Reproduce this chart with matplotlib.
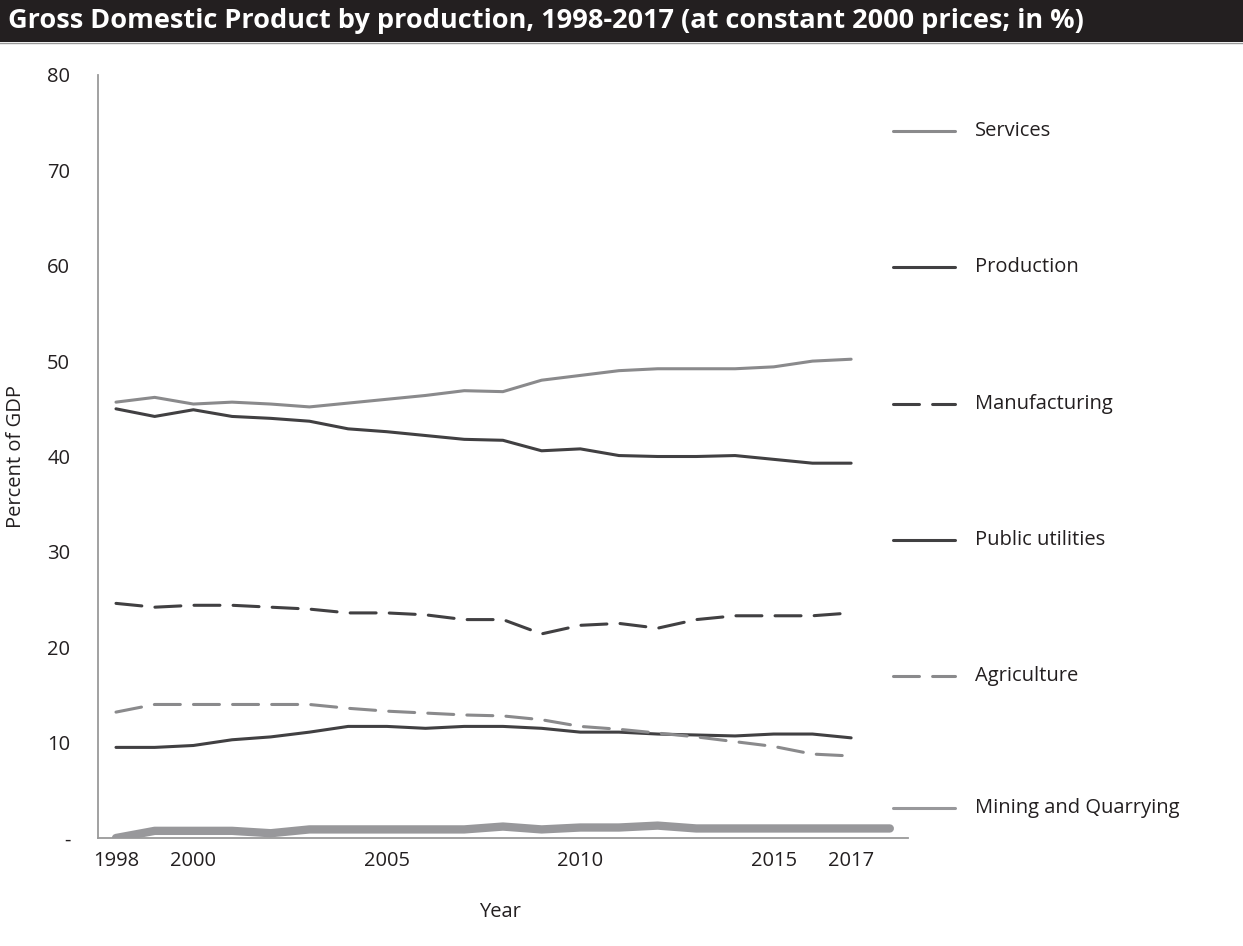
import matplotlib
matplotlib.use("Agg")
import matplotlib.pyplot as plt
from matplotlib.lines import Line2D
from matplotlib.patches import Rectangle

plt.rcParams['font.family'] = ['Open Sans', 'DejaVu Sans']

years = list(range(1998, 2018))
services = [45.7, 46.2, 45.5, 45.7, 45.5, 45.2, 45.6, 46.0, 46.4, 46.9,
            46.8, 48.0, 48.5, 49.0, 49.2, 49.2, 49.2, 49.4, 50.0, 50.2]
production = [45.0, 44.2, 44.9, 44.2, 44.0, 43.7, 42.9, 42.6, 42.2, 41.8,
              41.7, 40.6, 40.8, 40.1, 40.0, 40.0, 40.1, 39.7, 39.3, 39.3]
manufacturing = [24.6, 24.2, 24.4, 24.4, 24.2, 24.0, 23.6, 23.6, 23.4, 22.9,
                 22.9, 21.4, 22.3, 22.5, 22.0, 22.9, 23.3, 23.3, 23.3, 23.6]
public_utilities = [9.5, 9.5, 9.7, 10.3, 10.6, 11.1, 11.7, 11.7, 11.5, 11.7,
                    11.7, 11.5, 11.1, 11.1, 10.9, 10.8, 10.7, 10.9, 10.9, 10.5]
agriculture = [13.2, 14.0, 14.0, 14.0, 14.0, 14.0, 13.6, 13.3, 13.1, 12.9,
               12.8, 12.4, 11.7, 11.4, 11.0, 10.6, 10.1, 9.6, 8.8, 8.6]
mining_years = list(range(1998, 2019))
mining = [0.0, 0.75, 0.75, 0.75, 0.5, 0.9, 0.9, 0.9, 0.9, 0.9, 1.2,
          0.9, 1.1, 1.1, 1.3, 1.0, 1.0, 1.0, 1.0, 1.0, 1.0]

xtick_years = [1998, 2000, 2005, 2010, 2015, 2017]
ytick_values = [0, 10, 20, 30, 40, 50, 60, 70, 80]
ytick_labels = ['-', '10', '20', '30', '40', '50', '60', '70', '80']

LIGHT = '#8a8a8c'
DARK = '#414042'
MINING = '#98989b'
TEXT = '#231f20'
DASH = (0, (8.5, 4.3))
FS = 14.5

series = [
    ('Services', years, services, LIGHT, '-', 2.2),
    ('Production', years, production, DARK, '-', 2.2),
    ('Manufacturing', years, manufacturing, DARK, DASH, 2.2),
    ('Public utilities', years, public_utilities, DARK, '-', 2.2),
    ('Agriculture', years, agriculture, LIGHT, DASH, 2.2),
    ('Mining and Quarrying', mining_years, mining, MINING, '-', 6.0),
]

W, H = 1243, 946
fig = plt.figure(figsize=(W / 100, H / 100), dpi=100)
ax = fig.add_axes([98 / W, 1 - 838 / H, (908 - 98) / W, (838 - 75) / H])

for name, xs, ys, color, ls, lw in series:
    ax.plot(xs, ys, color=color, linestyle=ls, linewidth=lw,
            solid_capstyle='round', dash_capstyle='round', zorder=3)

ax.set_xlim(1997.535, 2018.47)
ax.set_ylim(0, 80)
ax.set_xticks(xtick_years)
ax.set_xticklabels([str(y) for y in xtick_years])
ax.set_yticks(ytick_values)
ax.set_yticklabels(ytick_labels)
ax.tick_params(axis='both', length=0, labelsize=FS, colors=TEXT)
ax.tick_params(axis='y', pad=20)
ax.tick_params(axis='x', pad=9)
for s in ['top', 'right']:
    ax.spines[s].set_visible(False)
for s in ['left', 'bottom']:
    ax.spines[s].set_color('#9a9a9a')
    ax.spines[s].set_linewidth(1.3)

fig.text(500 / W, 1 - 912 / H, 'Year', fontsize=FS, color=TEXT, ha='center', va='center')
fig.text(16 / W, 1 - 456 / H, 'Percent of GDP', fontsize=FS, color=TEXT,
         ha='center', va='center', rotation=90)

# Legend drawn as stacked entries to the right of the plot
legend_y = [131, 267, 404, 540, 676, 808]
for (name, xs, ys, color, ls, lw), py in zip(series, legend_y):
    yf = 1 - py / H
    fig.add_artist(Line2D([893 / W, 955 / W], [yf, yf], color=color,
                          linestyle=ls, linewidth=2.2,
                          solid_capstyle='round', dash_capstyle='round'))
    fig.text(975 / W, yf, name, fontsize=FS, color=TEXT, va='center', ha='left')

# Title band
fig.add_artist(Rectangle((0, 1 - 42 / H), 1, 42 / H, transform=fig.transFigure,
                         facecolor='#231f20', edgecolor='none'))
fig.add_artist(Line2D([0, 1], [1 - 43 / H, 1 - 43 / H], color='#9a9a9a', linewidth=1))
fig.text(8 / W, 1 - 21 / H,
         'Gross Domestic Product by production, 1998-2017 (at constant 2000 prices; in %)',
         fontsize=19.5, fontweight='bold', color='white', va='center', ha='left')

fig.savefig('out.png', dpi=100, facecolor='white')
